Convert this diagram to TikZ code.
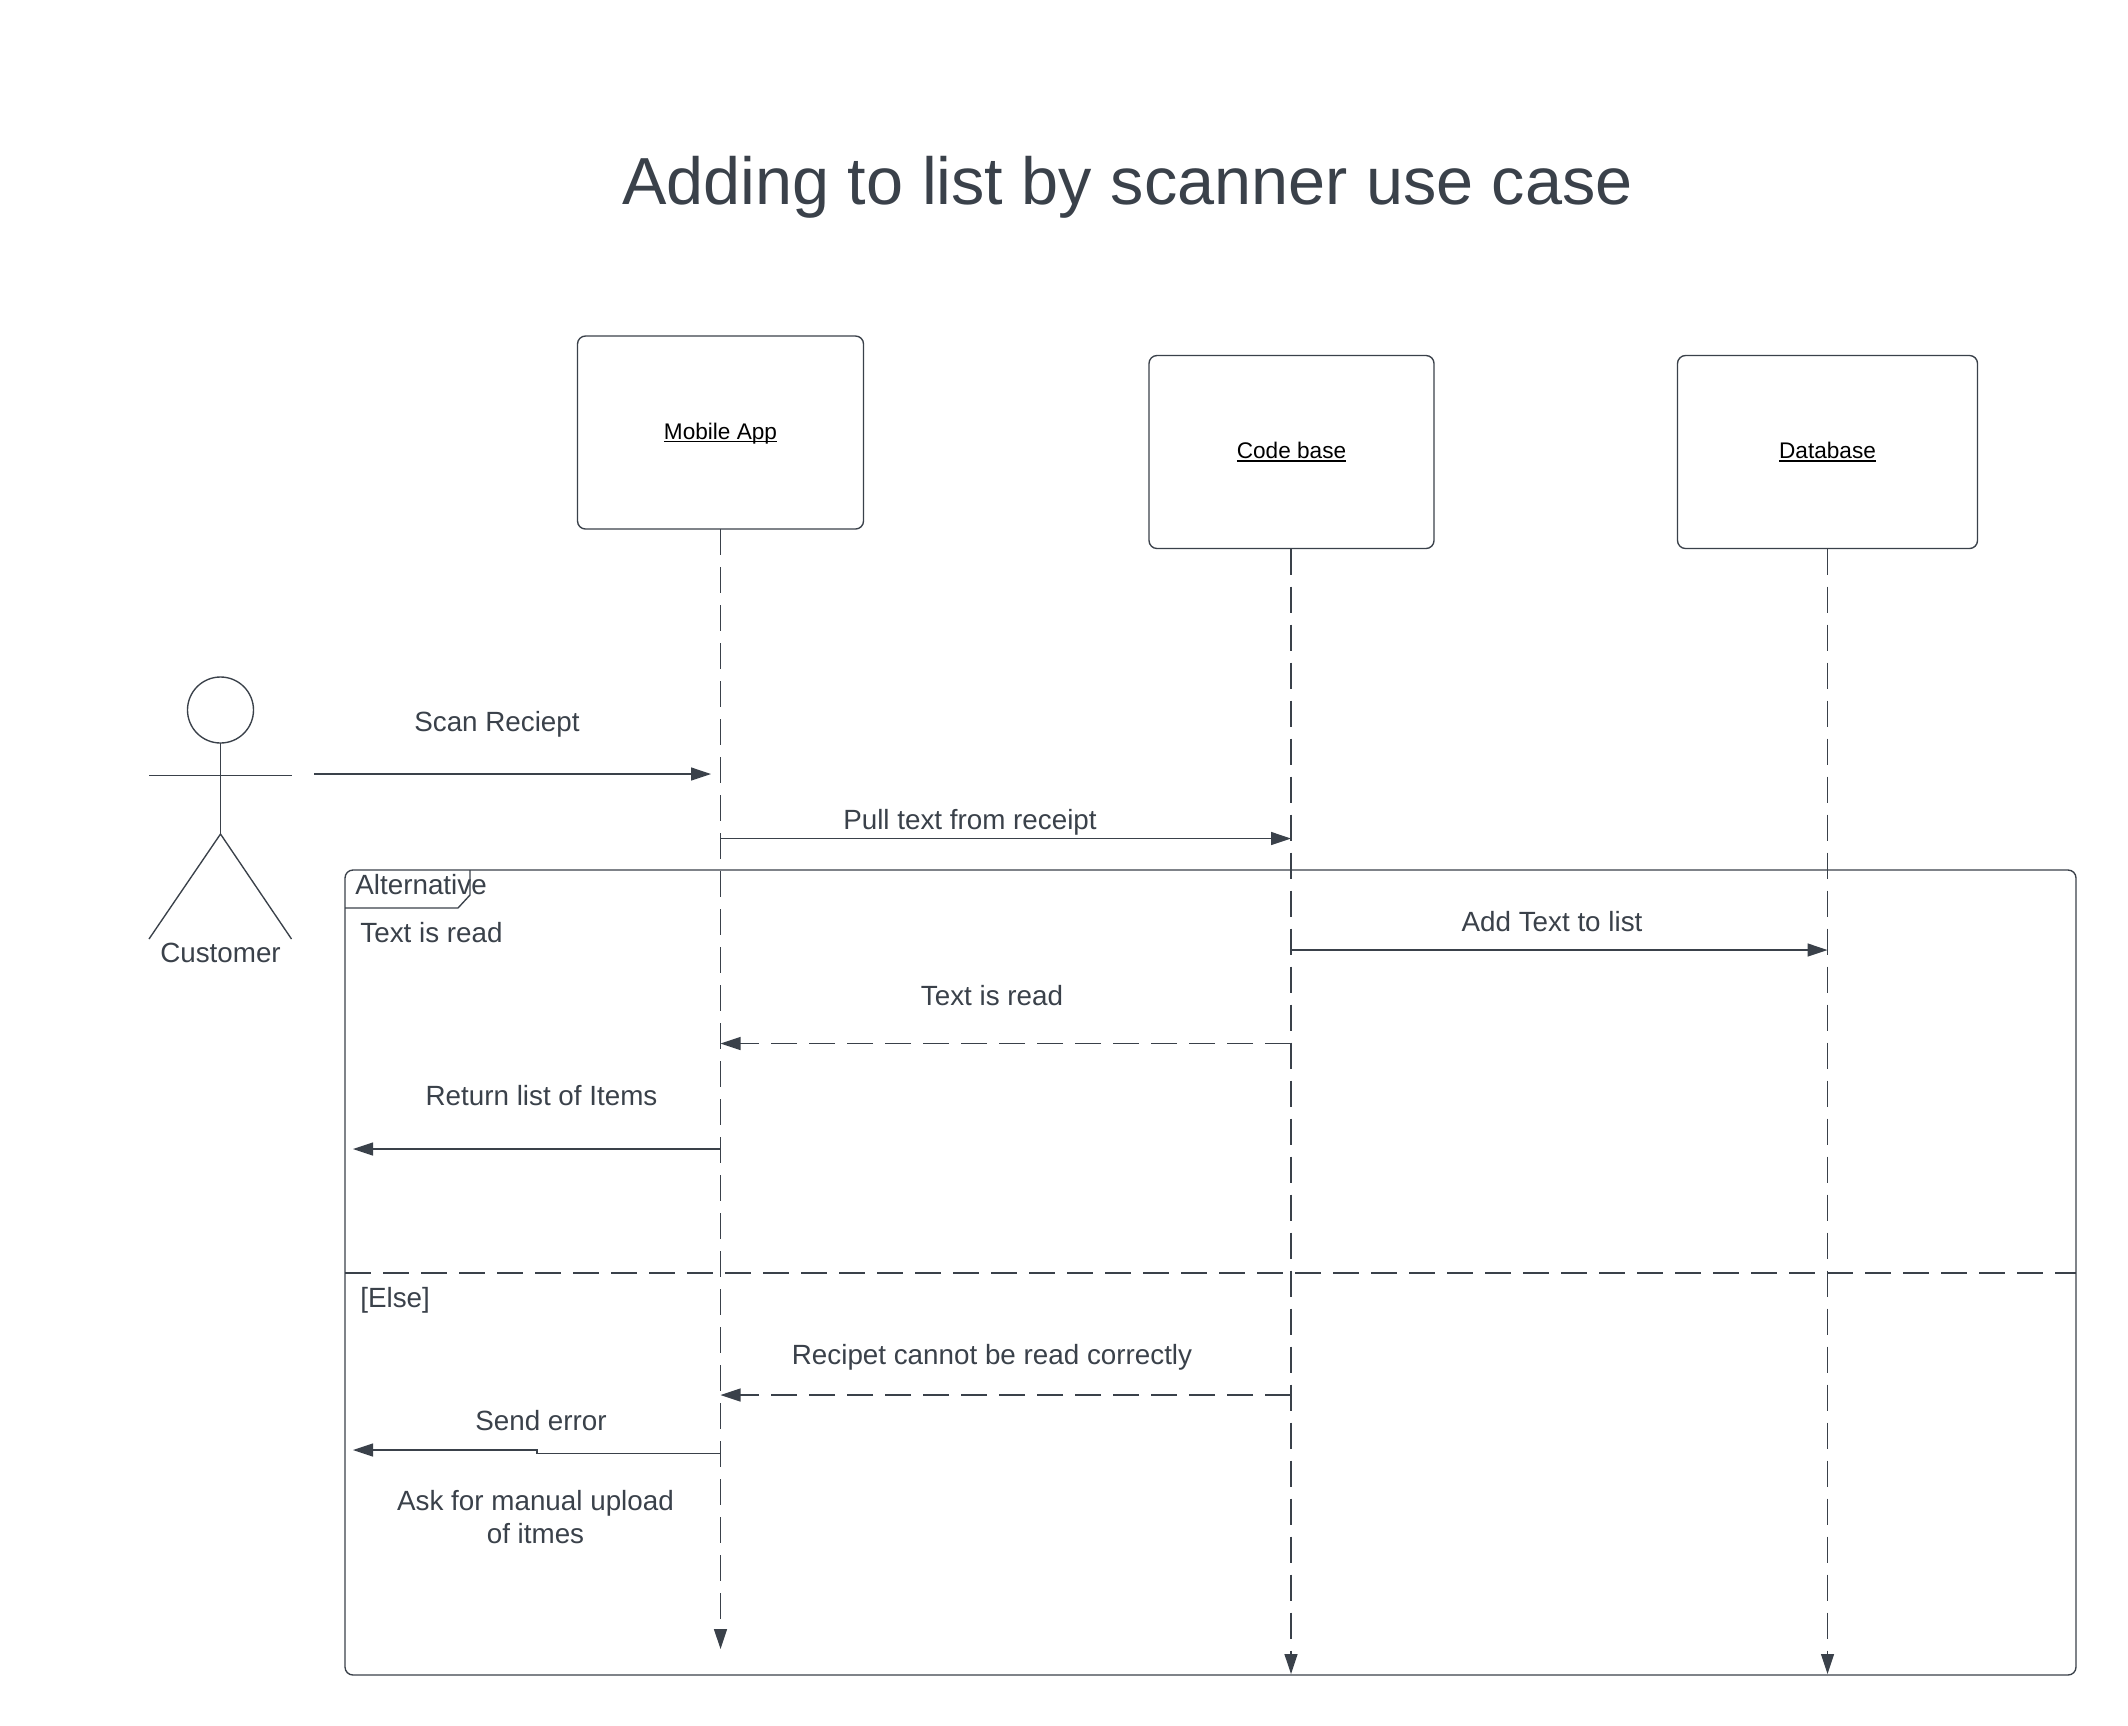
\documentclass[tikz,border=0pt]{standalone}
\usepackage{fontspec}
\setmainfont{Liberation Sans}
\usepackage{xcolor}
\usetikzlibrary{arrows.meta}
\definecolor{inkgray}{HTML}{3A414A}
\tikzstyle{seq}=[line width=.68pt,draw=inkgray]
\tikzstyle{msgline}=[seq,-{Triangle[length=10pt,width=6.5pt]},color=inkgray]
\tikzstyle{dashline}=[dash pattern=on 13pt off 6pt]
\tikzstyle{objbox}=[seq,rectangle,rounded corners=4pt,minimum height=96.5pt,
  inner sep=0pt,outer sep=0pt,text height=8.2pt,text depth=1.6pt,
  font=\fontsize{11.3pt}{13pt}\selectfont,text=black]
\tikzstyle{msg}=[inner sep=0pt,text=inkgray,font=\fontsize{13.9pt}{16.5pt}\selectfont]
\newcommand\ulabel[1]{\setbox0=\hbox{#1}\rlap{\rule[-1.5pt]{\wd0}{.6pt}}\box0}
\begin{document}
\begin{tikzpicture}[x=.5pt,y=-.5pt]
  \useasboundingbox (0,0) rectangle (2128,1725);

  \node (title) at (1127.5,187) [text=inkgray,inner sep=0pt,font=\fontsize{33.3pt}{40pt}\selectfont] {Adding to list by scanner use case};

  \node[objbox,minimum width=143pt] (mobile) at (720.5,432.5) {\ulabel{Mobile App}};
  \node[objbox,minimum width=142.5pt] (code) at (1291.5,452) {\ulabel{Code base}};
  \node[objbox,minimum width=150pt] (dbase) at (1827.5,452) {\ulabel{Database}};

  % lifeline ends
  \coordinate (mobileEnd) at (720.5,1649);
  \coordinate (codeEnd) at (1291,1674);
  \coordinate (dbaseEnd) at (1827.5,1674);
  \draw[msgline,dashline] (mobile) -- (mobileEnd);
  \draw[msgline,dashline] (code.south -| codeEnd) -- (codeEnd);
  \draw[msgline,dashline] (dbase) -- (dbaseEnd);

  % actor
  \node[seq,circle,minimum size=33pt,inner sep=0pt,outer sep=0pt] (head) at (220.5,710) {};
  \coordinate (hip) at (220.5,834);
  \coordinate (armL) at (149,775.5);
  \coordinate (armR) at (291.5,775.5);
  \coordinate (footL) at (149,939);
  \coordinate (footR) at (291.5,939);
  \draw[seq] (head) -- (hip);
  \draw[seq] (armL) -- (armR);
  \draw[seq] (footL) -- (hip) -- (footR);
  \node[msg] (customer) at (220.5,952.5) {Customer};

  % frame
  \node[seq,rectangle,rounded corners=4pt,minimum width=865.5pt,minimum height=402.5pt,inner sep=0pt,outer sep=0pt] (altframe) at (1210.5,1272.5) {};
  \coordinate (tabTop) at (470,870);
  \coordinate (tabCut) at (470,895);
  \coordinate (tabLow) at (458,908);
  \coordinate (tabLeft) at (345,908);
  \draw[seq] (tabTop) -- (tabCut) -- (tabLow) -- (tabLeft);
  \node[msg,anchor=west] (altlabel) at (355,885) {Alternative};
  \node[msg,anchor=west] (guard) at (360,933) {Text is read};
  \coordinate (elseL) at (345,1273);
  \coordinate (elseR) at (2076,1273);
  \draw[seq,dashline] (elseL) -- (elseR);
  \node[msg,anchor=west] (elselabel) at (360,1300) {[Else]};

  % messages
  \coordinate (scanA) at (314,774);
  \coordinate (scanB) at (711,774);
  \draw[msgline] (scanA) -- (scanB);
  \node[msg] (scan) at (497,724.5) {Scan Reciept};

  \coordinate (pullA) at (720.5,838.5);
  \coordinate (pullB) at (1291,838.5);
  \draw[msgline] (pullA) -- (pullB);
  \node[msg] (pull) at (970,822) {Pull text from receipt};

  \coordinate (addA) at (1291,950);
  \coordinate (addB) at (1827.5,950);
  \draw[msgline] (addA) -- (addB);
  \node[msg] (add) at (1552,922) {Add Text to list};

  \coordinate (readA) at (1291,1043.5);
  \coordinate (readB) at (720.5,1043.5);
  \draw[msgline,dashline] (readA) -- (readB);
  \node[msg] (read) at (992,996) {Text is read};

  \coordinate (retA) at (720.5,1149);
  \coordinate (retB) at (353,1149);
  \draw[msgline] (retA) -- (retB);
  \node[msg] (ret) at (541.5,1096) {Return list of Items};

  \coordinate (failA) at (1291,1395);
  \coordinate (failB) at (720.5,1395);
  \draw[msgline,dashline] (failA) -- (failB);
  \node[msg] (fail) at (992,1357) {Recipet cannot be read correctly};

  \coordinate (errA) at (720.5,1453.5);
  \coordinate (errK) at (537,1453.5);
  \coordinate (errJ) at (537,1450);
  \coordinate (errB) at (353,1450);
  \draw[msgline] (errA) -- (errK) -- (errJ) -- (errB);
  \node[msg] (err) at (541,1421) {Send error};

  \node[msg,align=center] (manual) at (535.5,1517) {Ask for manual upload\\of itmes};
\end{tikzpicture}
\end{document}
